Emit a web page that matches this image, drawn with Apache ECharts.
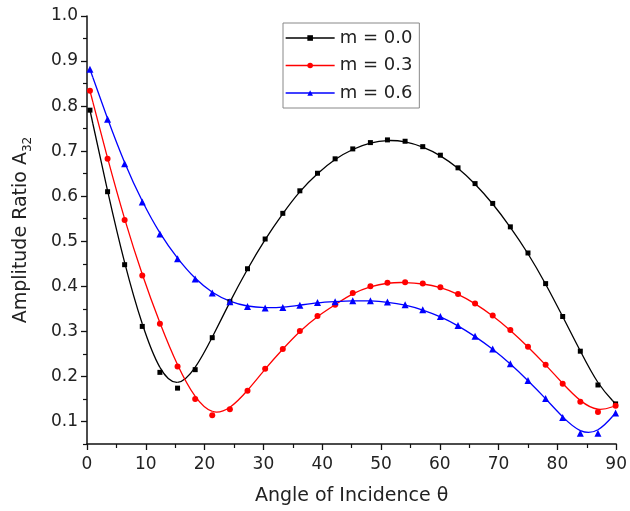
<!DOCTYPE html>
<html><head><meta charset="utf-8">
<script src="https://cdn.jsdelivr.net/npm/echarts@6/dist/echarts.min.js"></script>
<style>html,body{margin:0;padding:0;background:#fff}#c{width:630px;height:511px}</style>
</head><body><div id="c"></div>
<script>
const angles = [0.5, 3.5, 6.4, 9.4, 12.4, 15.4, 18.4, 21.3, 24.3, 27.3, 30.3, 33.3, 36.2, 39.2, 42.2, 45.2, 48.2, 51.1, 54.1, 57.1, 60.1, 63.1, 66.0, 69.0, 72.0, 75.0, 78.0, 80.9, 83.9, 86.9, 89.9];
const m00 = [0.791, 0.610, 0.448, 0.311, 0.209, 0.174, 0.215, 0.286, 0.366, 0.439, 0.505, 0.562, 0.612, 0.651, 0.683, 0.705, 0.719, 0.725, 0.722, 0.710, 0.691, 0.663, 0.628, 0.584, 0.532, 0.474, 0.406, 0.333, 0.256, 0.181, 0.139];
const m03 = [0.834, 0.683, 0.547, 0.424, 0.317, 0.222, 0.150, 0.114, 0.127, 0.168, 0.217, 0.261, 0.301, 0.334, 0.359, 0.385, 0.400, 0.408, 0.409, 0.406, 0.398, 0.383, 0.362, 0.335, 0.303, 0.266, 0.226, 0.184, 0.144, 0.121, 0.135];
const m06 = [0.882, 0.771, 0.672, 0.587, 0.516, 0.461, 0.416, 0.385, 0.366, 0.355, 0.352, 0.353, 0.358, 0.364, 0.366, 0.368, 0.368, 0.365, 0.359, 0.348, 0.333, 0.313, 0.289, 0.261, 0.228, 0.191, 0.151, 0.109, 0.074, 0.074, 0.119];
const seriesNames = ['m = 0.0', 'm = 0.3', 'm = 0.6'];
const yTicks = [0.1, 0.2, 0.3, 0.4, 0.5, 0.6, 0.7, 0.8, 0.9, 1.0];
const yMinorTicks = [0.05, 0.15, 0.25, 0.35, 0.45, 0.55, 0.65, 0.75, 0.85, 0.95];
const xLabel = 'Angle of Incidence θ';
const yLabel = 'Amplitude Ratio A';
const ySub = '32';

const FONT = 'DejaVu Sans';
const pairs = arr => arr.map((v, i) => [angles[i], v]);
const colors = ['#000000', '#ff0000', '#0000ff'];
const symbols = ['rect', 'circle', 'triangle'];
const symSizes = [5, 6, 7];
const markers = [m00, m03, m06];

// B-spline curve (control points = data points, clamped ends), drawn in pixel space via the axes
function bsplineRender(arr, color) {
  return function (params, api) {
    if (params.dataIndex !== 0) return null;
    const P = pairs(arr).map(p => api.coord(p));
    const n = P.length;
    const Q = [P[0], P[0]].concat(P, [P[n - 1], P[n - 1]]);
    const children = [];
    for (let i = 1; i + 2 < Q.length; i++) {
      const a = Q[i - 1], b = Q[i], c = Q[i + 1], d = Q[i + 2];
      children.push({
        type: 'bezierCurve',
        shape: {
          x1: (a[0] + 4 * b[0] + c[0]) / 6, y1: (a[1] + 4 * b[1] + c[1]) / 6,
          cpx1: (2 * b[0] + c[0]) / 3, cpy1: (2 * b[1] + c[1]) / 3,
          cpx2: (b[0] + 2 * c[0]) / 3, cpy2: (b[1] + 2 * c[1]) / 3,
          x2: (b[0] + 4 * c[0] + d[0]) / 6, y2: (b[1] + 4 * c[1] + d[1]) / 6
        },
        style: {stroke: color, lineWidth: 1.3, fill: null}
      });
    }
    return {type: 'group', children: children};
  };
}

const chart = echarts.init(document.getElementById('c'));
const series = [];
for (let k = 0; k < 3; k++) {
  series.push({
    type: 'custom', renderItem: bsplineRender(markers[k], colors[k]),
    data: pairs(markers[k]), silent: true, clip: false, z: 2, animation: false
  });
}
for (let k = 0; k < 3; k++) {
  series.push({
    name: seriesNames[k], type: 'line', showSymbol: true,
    symbol: symbols[k], symbolSize: symSizes[k],
    data: pairs(markers[k]),
    lineStyle: {color: colors[k], width: 0},
    itemStyle: {color: colors[k], opacity: 1},
    z: 3, animation: false
  });
}
const axisCommon = {
  axisLine: {show: true, lineStyle: {color: '#111', width: 1.5}},
  splitLine: {show: false}
};
chart.setOption({
  animation: false,
  backgroundColor: '#fff',
  textStyle: {fontFamily: FONT},
  grid: {left: 87, right: 10.5, top: 16, bottom: 67, containLabel: false},
  legend: {
    data: seriesNames, orient: 'vertical', left: 283, top: 23,
    padding: [6, 7, 6, 2], itemGap: 9.5, itemWidth: 49, itemHeight: 7,
    borderColor: '#888', borderWidth: 1, backgroundColor: '#fff',
    lineStyle: {width: 1.3, opacity: 1},
    textStyle: {fontFamily: FONT, fontSize: 18, color: '#222'}
  },
  xAxis: Object.assign({}, axisCommon, {
    type: 'value', min: 0, max: 90, interval: 10,
    name: xLabel, nameLocation: 'middle', nameGap: 43,
    nameTextStyle: {fontFamily: FONT, fontSize: 19, color: '#222'},
    axisTick: {show: true, length: 6, lineStyle: {color: '#111', width: 1.3}},
    minorTick: {show: true, splitNumber: 2, length: 4, lineStyle: {color: '#111', width: 1.2}},
    axisLabel: {fontFamily: FONT, fontSize: 17, color: '#222', margin: 12}
  }),
  yAxis: [
    Object.assign({}, axisCommon, {
      type: 'value', min: 0.05, max: 1.0,
      name: '{a|' + yLabel + '}{sub|' + ySub + '}', nameLocation: 'middle', nameGap: 55,
      nameTextStyle: {
        fontFamily: FONT, color: '#222',
        rich: {
          a: {fontFamily: FONT, fontSize: 19, lineHeight: 20, verticalAlign: 'top', color: '#222'},
          sub: {fontFamily: FONT, fontSize: 12, lineHeight: 12, padding: [10, 0, 0, 0], verticalAlign: 'top', color: '#222'}
        }
      },
      axisTick: {show: true, length: 6, customValues: yTicks, lineStyle: {color: '#111', width: 1.3}},
      axisLabel: {fontFamily: FONT, fontSize: 17, color: '#222', margin: 9, customValues: yTicks,
        formatter: v => v.toFixed(1)}
    }),
    {
      type: 'value', min: 0.05, max: 1.0, position: 'left', offset: 0,
      axisLine: {show: false}, splitLine: {show: false},
      axisTick: {show: true, length: 4, customValues: yMinorTicks, lineStyle: {color: '#111', width: 1.2}},
      axisLabel: {show: false}
    }
  ],
  series: series
});
</script></body></html>
